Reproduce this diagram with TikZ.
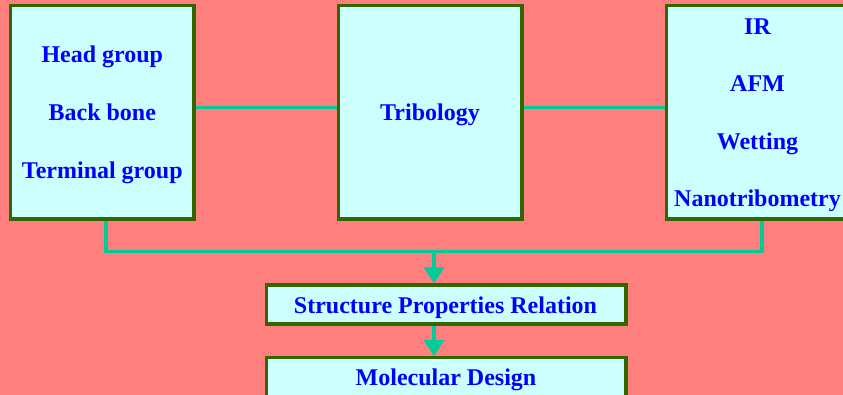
\documentclass[tikz,border=0pt]{standalone}
\usepackage{fontspec}
\setmainfont{Liberation Serif}
\usetikzlibrary{arrows.meta,calc}
\definecolor{bgsalmon}{HTML}{FF7F7F}
\definecolor{boxfill}{HTML}{CCFFFF}
\definecolor{boxline}{HTML}{336600}
\definecolor{linkcol}{HTML}{00CC99}
\definecolor{txtblue}{HTML}{0000FF}
\tikzset{
  panel/.style={draw=boxline, fill=boxfill, line width=3.3pt, rectangle,
    inner sep=0pt, minimum width=183.3pt, minimum height=213.3pt},
  bar/.style={draw=boxline, fill=boxfill, line width=3.3pt, rectangle,
    inner sep=0pt, minimum width=359.3pt, minimum height=39pt},
  label/.style={text=txtblue, font=\fontsize{24}{28}\selectfont\bfseries,
    anchor=base, inner sep=0pt},
  link/.style={draw=linkcol, line width=3.5pt},
  arrowlink/.style={link, -{Triangle[width=20pt,length=16pt]}}
}
\begin{document}
\begin{tikzpicture}[x=1pt,y=-1pt]
  % canvas
  \fill[bgsalmon] (0,0) rectangle (843,395);
  \useasboundingbox (0,0) rectangle (843,395);

  % upper row of panels
  \node[panel] (chem) at (102.35,112.35) {};
  \node[panel] (trib) at (430.3,112.35) {};
  \node[panel] (meas) at (758.35,112.35) {};

  % lower bars
  \node[bar] (spr) at (446.35,304.5) {};
  \node[bar] (mold) at (446.35,377.2) {};

  % connectors between panels
  \draw[link] (chem.east |- 0,107.3) -- (trib.west |- 0,107.3);
  \draw[link] (trib.east |- 0,107.3) -- (meas.west |- 0,107.3);

  % collecting line under the side panels
  \coordinate (jl) at (106,251.5);
  \coordinate (jr) at (762,251.5);
  \coordinate (jm) at (434,251.5);
  \draw[link] (jl |- chem.south) -- (jl) -- (jr) -- (jr |- meas.south);
  \draw[arrowlink] (jm) -- (jm |- spr.north);
  \draw[arrowlink] (jm |- spr.south) -- (jm |- mold.north);

  % texts
  \node[label] (t1) at (102.3,62.5) {Head group};
  \node[label] (t2) at (102.3,120.5) {Back bone};
  \node[label] (t3) at (102.3,178.5) {Terminal group};
  \node[label] (t4) at (430,120.5) {Tribology};
  \node[label] (t5) at (757.5,34.5) {IR};
  \node[label] (t6) at (757.5,92) {AFM};
  \node[label] (t7) at (757.5,149.5) {Wetting};
  \node[label] (t8) at (757.5,207) {Nanotribometry};
  \node[label] (t9) at (445.5,313) {Structure Properties Relation};
  \node[label] (t10) at (446,385) {Molecular Design};
\end{tikzpicture}
\end{document}
